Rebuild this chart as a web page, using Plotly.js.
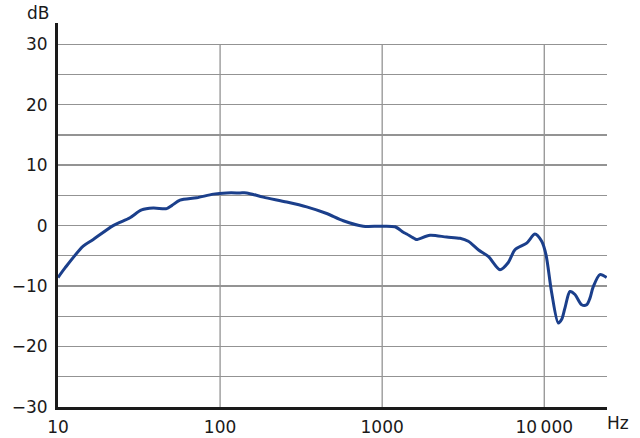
<!DOCTYPE html>
<html>
<head>
<meta charset="utf-8">
<script src="https://cdn.plot.ly/plotly-3.0.1.min.js"></script>
<style>html,body{margin:0;padding:0;background:#fff;}#chart{width:640px;height:438px;}</style>
</head>
<body>
<div id="chart"></div>
<script>
// Frequency (Hz) and level (dB)
const freqHz = [10, 11.05, 14.3, 16.5, 21.9, 27.8, 32.8, 38.7, 46.8, 50.3, 56.6, 71.7, 90.8, 109.8, 132.7, 145.9, 184.7, 257.6, 342, 454.7, 575.4, 764, 969, 1200, 1350, 1416, 1594, 1633, 1972, 2500, 3020, 3398, 3915, 4513, 5330, 5998, 6596, 7789, 8764, 9640, 10245, 11110, 12200, 12810, 13420, 14410, 15470, 17010, 18270, 19140, 20060, 22060, 24260];
const levelDb = [-8.6, -7.0, -3.4, -2.3, 0.0, 1.3, 2.6, 2.9, 2.8, 3.3, 4.2, 4.6, 5.2, 5.4, 5.4, 5.4, 4.7, 3.9, 3.1, 2.0, 0.8, -0.1, -0.1, -0.2, -1.1, -1.4, -2.2, -2.3, -1.6, -1.9, -2.1, -2.6, -4.0, -5.1, -7.3, -6.1, -4.0, -2.9, -1.4, -2.6, -4.8, -11.1, -16.1, -15.5, -13.6, -10.9, -11.4, -13.1, -13.1, -12.0, -10.1, -8.1, -8.6];

const xTickVals = [10, 100, 1000, 10000];
const xTickText = ["10", "100", "1000", "10\u2009000"];
const yTickVals = [-30, -20, -10, 0, 10, 20, 30];
const yMinorVals = [-25, -15, -5, 5, 15, 25];
const vGridVals = [100, 1000, 10000];

const gridColor = "#939393";
const fontFamily = "DejaVu Sans, Liberation Sans, Arial, sans-serif";

const shapes = vGridVals.map(v => ({
  type: "line", xref: "x", yref: "y", x0: v, x1: v, y0: -30, y1: 30,
  line: {color: gridColor, width: 1.3}, layer: "below"
}));

const trace = {
  x: freqHz, y: levelDb, type: "scatter", mode: "lines",
  line: {color: "#1b3f8b", width: 3, shape: "spline", smoothing: 0.8},
  hoverinfo: "skip"
};

const layout = {
  width: 640, height: 438,
  margin: {l: 58, r: 33, t: 23, b: 31},
  paper_bgcolor: "#fff", plot_bgcolor: "#fff",
  showlegend: false,
  font: {family: fontFamily, size: 17, color: "#1a1a1a"},
  xaxis: {
    type: "log", range: [1, 4.387],
    tickvals: xTickVals, ticktext: xTickText,
    showgrid: false, zeroline: false,
    showline: true, linecolor: "#1a1a1a", linewidth: 3,
    ticks: "", ticklabelstandoff: 3,
    tickfont: {family: fontFamily, size: 17, color: "#1a1a1a"}
  },
  yaxis: {
    range: [-30, 33.5],
    tickvals: yTickVals,
    showgrid: true, gridcolor: gridColor, gridwidth: 1.3,
    minor: {tickvals: yMinorVals, showgrid: true, gridcolor: gridColor, gridwidth: 1.3, ticks: ""},
    zeroline: false,
    showline: true, linecolor: "#1a1a1a", linewidth: 3,
    ticks: "", ticklabelstandoff: 4,
    tickfont: {family: fontFamily, size: 17, color: "#1a1a1a"}
  },
  shapes: shapes,
  annotations: [
    {text: "dB", xref: "paper", yref: "paper", x: -0.036, y: 1.026, showarrow: false,
     xanchor: "center", yanchor: "middle", font: {family: fontFamily, size: 17, color: "#1a1a1a"}},
    {text: "Hz", xref: "paper", yref: "paper", x: 1.02, y: -0.042, showarrow: false,
     xanchor: "center", yanchor: "middle", font: {family: fontFamily, size: 17, color: "#1a1a1a"}}
  ]
};

Plotly.newPlot("chart", [trace], layout, {staticPlot: true, displayModeBar: false});
</script>
</body>
</html>
